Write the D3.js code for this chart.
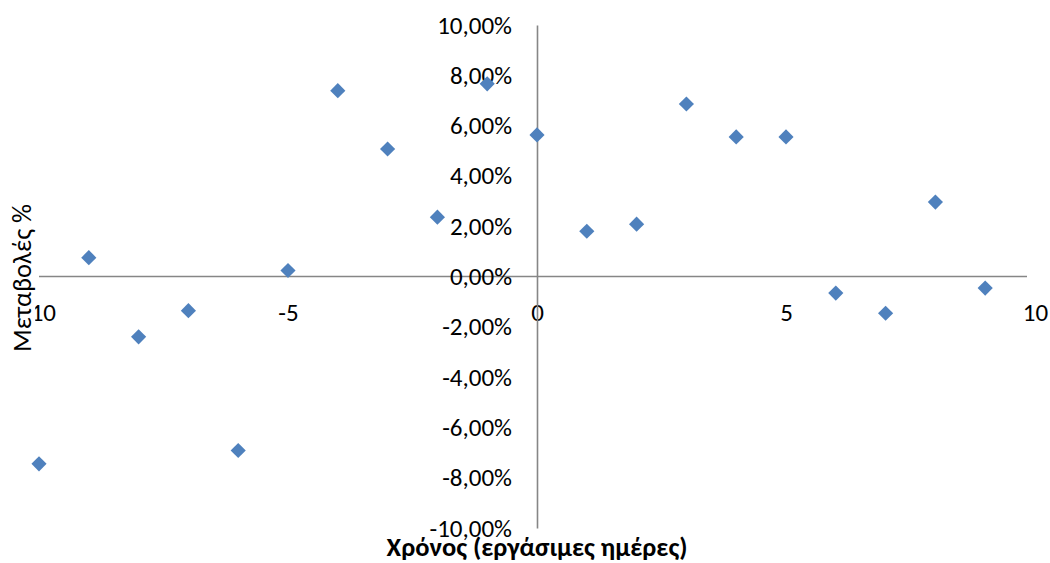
<!DOCTYPE html>
<html>
<head>
<meta charset="utf-8">
<script src="https://cdn.jsdelivr.net/npm/d3@7"></script>
<style>
  html, body { margin: 0; padding: 0; background: #fff; }
  svg { display: block; }
  text { font-family: Carlito, Lato, sans-serif; fill: #000; }
</style>
</head>
<body>
<svg id="chart" width="1050" height="563"></svg>
<script>
// Working days relative to the event, and the percentage change on each day
const days = [-10, -9, -8, -7, -6, -5, -4, -3, -2, -1, 0, 1, 2, 3, 4, 5, 6, 7, 8, 9];
const changes = [-7.45, 0.75, -2.40, -1.36, -6.92, 0.24, 7.39, 5.07, 2.36, 7.66,
                 5.63, 1.80, 2.08, 6.86, 5.55, 5.55, -0.66, -1.46, 2.96, -0.46];
const xTicks = [-10, -5, 0, 5, 10];
const yTicks = [-10, -8, -6, -4, -2, 0, 2, 4, 6, 8, 10];
const xTitle = "Χρόνος (εργάσιμες ημέρες)";
const yTitle = "Μεταβολές %";

const FONT = "Carlito, Lato, sans-serif";
const TICK_SIZE = "25px";
const svg = d3.select("#chart");
const x = d3.scaleLinear().domain([-10, 10]).range([39, 1035]);
const y = d3.scaleLinear().domain([-10, 10]).range([528, 25]);
const axisColor = "#868686";

// Horizontal axis through y = 0
const gx = svg.append("g").attr("transform", `translate(0,${y(0)})`)
  .call(d3.axisBottom(x).tickValues(xTicks).tickSize(0).tickPadding(0).tickFormat(d3.format("d")));
gx.select(".domain").attr("stroke", axisColor).attr("stroke-width", 1.6)
  .attr("d", `M${x(-10)},0H${x(10) - 8}`);
gx.selectAll(".tick text")
  .attr("dy", null).attr("y", 44)
  .style("font-size", TICK_SIZE).style("font-family", FONT)
  .text(d => d < 0 ? "-" + Math.abs(d) : d);

// Vertical axis through x = 0
const pct = d => (d < 0 ? "-" : "") + d3.format(".2f")(Math.abs(d)).replace(".", ",") + "%";
const gy = svg.append("g").attr("transform", `translate(${x(0)},0)`)
  .call(d3.axisLeft(y).tickValues(yTicks).tickSize(0).tickPadding(25).tickFormat(pct));
gy.select(".domain").attr("stroke", axisColor).attr("stroke-width", 1.6);
gy.selectAll(".tick text")
  .style("font-size", TICK_SIZE).style("font-family", FONT);

// Diamond markers
const diamond = d3.symbol().type(d3.symbolSquare).size(115);
svg.append("g").selectAll("path")
  .data(days.map((d, i) => ({ day: d, v: changes[i] })))
  .join("path")
  .attr("d", diamond)
  .attr("transform", d => `translate(${x(d.day)},${y(d.v)}) rotate(45)`)
  .attr("fill", "#4F81BD");

// Axis titles
svg.append("text")
  .attr("x", 537).attr("y", 556)
  .attr("text-anchor", "middle")
  .style("font-size", "26.5px").style("font-weight", "bold")
  .text(xTitle);

const yt = svg.append("g").attr("transform", "translate(22,278) rotate(-90)");
const ytText = yt.append("text")
  .attr("text-anchor", "middle").attr("dy", "0.35em")
  .style("font-size", "26.5px")
  .text(yTitle);
const bb = ytText.node().getBBox();
yt.insert("rect", "text")
  .attr("x", bb.x - 2).attr("y", bb.y + 3)
  .attr("width", bb.width + 4).attr("height", bb.height - 6)
  .attr("fill", "#fff");
</script>
</body>
</html>
